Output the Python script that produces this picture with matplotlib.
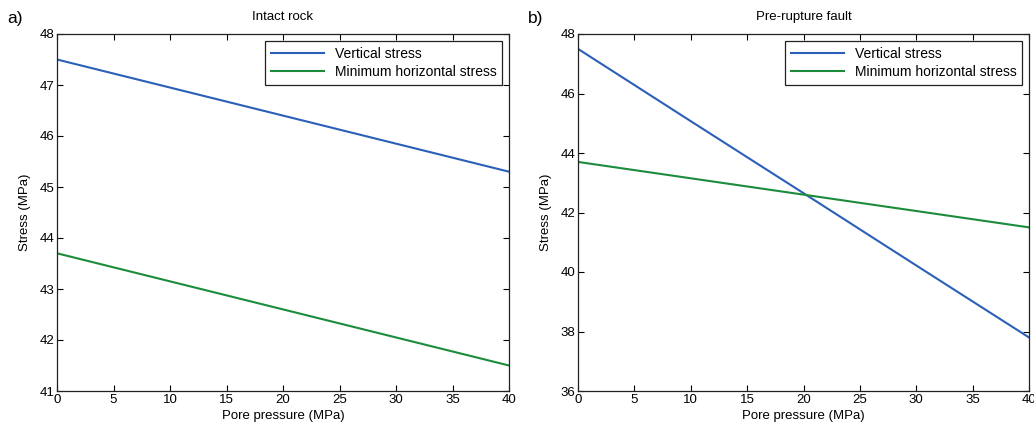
import matplotlib
matplotlib.use("Agg")
import matplotlib.pyplot as plt
import numpy as np

plt.rcParams['font.family'] = ['Liberation Sans', 'DejaVu Sans']
plt.rcParams['font.size'] = 9.5

# pore pressure (MPa)
pore = [0, 10, 20, 30, 40]

# a) intact rock
intact_vertical = [47.5, 46.95, 46.4, 45.85, 45.3]
intact_minhor = [43.7, 43.15, 42.6, 42.05, 41.5]

# b) pre-rupture fault
fault_vertical = [47.5, 45.07, 42.65, 40.22, 37.8]
fault_minhor = [43.7, 43.15, 42.6, 42.05, 41.5]

blue = '#2b5fb8'
green = '#1c8c3c'

fig = plt.figure(figsize=(10.34, 4.28), dpi=100)
W, H = 1034, 428
ax1 = fig.add_axes([57 / W, 1 - 391 / H, 452 / W, 357 / H])
ax2 = fig.add_axes([578 / W, 1 - 391 / H, 451 / W, 357 / H])

panels = [
    (ax1, intact_vertical, intact_minhor, 'Intact rock', (41, 48), np.arange(41, 49, 1), 'a)'),
    (ax2, fault_vertical, fault_minhor, 'Pre-rupture fault', (36, 48), np.arange(36, 49, 2), 'b)'),
]

for ax, vert, minh, title, ylim, yticks, tag in panels:
    ax.plot(pore, vert, color=blue, lw=1.5, label='Vertical stress')
    ax.plot(pore, minh, color=green, lw=1.5, label='Minimum horizontal stress')
    ax.set_xlim(0, 40)
    ax.set_ylim(*ylim)
    ax.set_xticks(np.arange(0, 41, 5))
    ax.set_yticks(yticks)
    ax.tick_params(direction='in', top=True, right=True, length=4, width=0.8, pad=2)
    for s in ax.spines.values():
        s.set_linewidth(0.9)
        s.set_color('#222222')
    ax.set_xlabel('Pore pressure (MPa)', labelpad=3)
    ax.set_ylabel('Stress (MPa)', labelpad=6)
    ax.set_title(title, fontsize=9.5, pad=10)
    leg = ax.legend(loc='upper right', fancybox=False, framealpha=1, edgecolor='#222222',
                    borderaxespad=0.5, handlelength=3.8, labelspacing=0.35, borderpad=0.4,
                    fontsize=10)
    leg.get_frame().set_linewidth(0.9)
    bbox = ax.get_position()
    fig.text(bbox.x0 - 50 / W, 1 - 18 / H, tag, fontsize=12.5, ha='left', va='center')

fig.savefig('out.png', dpi=100)
